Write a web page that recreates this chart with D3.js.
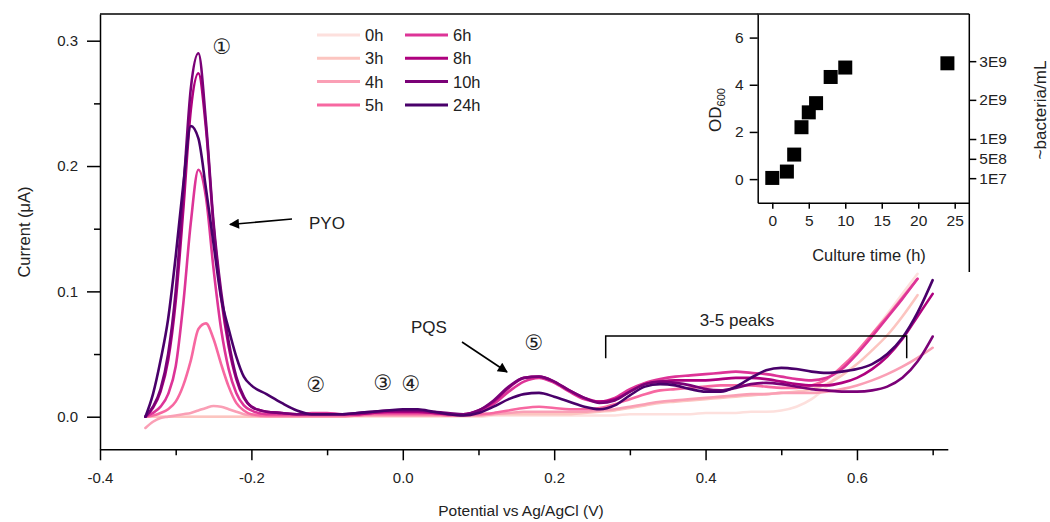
<!DOCTYPE html>
<html><head><meta charset="utf-8">
<script src="https://cdn.jsdelivr.net/npm/d3@7"></script>
<style>
html,body{margin:0;padding:0;background:#fff;}
svg{display:block;font-family:"Liberation Sans",Arial,sans-serif;}
</style></head>
<body>
<svg id="chart" width="1050" height="522"></svg>
<script>
// ---------- DATA ----------
const potentials = [-0.34,-0.33,-0.32,-0.31,-0.30,-0.29,-0.28,-0.27,-0.26,-0.25,-0.24,-0.23,-0.22,-0.21,-0.20,
  -0.18,-0.16,-0.14,-0.12,-0.10,-0.08,-0.06,-0.04,-0.02,0.00,0.02,0.04,0.06,0.08,0.10,0.12,0.14,0.16,0.18,
  0.20,0.22,0.24,0.26,0.28,0.30,0.32,0.34,0.36,0.38,0.40,0.42,0.44,0.46,0.48,0.50,0.52,0.54,0.56,0.58,0.60,0.62,0.64,0.66,0.68,0.70];

const current0h = [0,0,0,0,0,0,0,0,0,0,0,0,0,0,0,
  0,0,0,0,0,0,0,0,0,0,0,0,0,0,0,0.001,0.001,0.001,0.001,
  0.001,0.001,0.001,0.001,0.001,0.002,0.002,0.002,0.002,0.002,0.003,0.003,0.003,0.004,0.004,0.005,0.008,0.014,0.024,0.037,0.051,0.066,0.082,0.098,0.114,null];
const current3h = [0,0,0,0,0,0,0,0,0,0,0,0,0,0,0,
  0.001,0.001,0.001,0.001,0.001,0.001,0.001,0.001,0.001,0.001,0.001,0.001,0.001,0.001,0.001,0.002,0.002,0.002,0.002,
  0.002,0.002,0.003,0.004,0.005,0.007,0.009,0.011,0.012,0.013,0.014,0.015,0.016,0.017,0.018,0.019,0.020,0.022,0.026,0.033,0.042,0.053,0.065,0.080,0.097,null];
const current4h = [-0.009,-0.004,-0.001,0.000,0.001,0.002,0.003,0.005,0.007,0.0085,0.008,0.006,0.004,0.002,0.001,
  0,0,0,0,0,0,0.001,0.001,0.001,0.001,0.001,0.001,0.001,0.001,0.001,0.002,0.003,0.004,0.004,
  0.004,0.004,0.004,0.005,0.006,0.008,0.010,0.012,0.013,0.014,0.015,0.016,0.017,0.018,0.018,0.019,0.019,0.019,0.020,0.022,0.025,0.029,0.034,0.040,0.047,0.055];
const current5h = [0.000,0.001,0.003,0.006,0.012,0.025,0.045,0.070,0.0745,0.062,0.042,0.024,0.011,0.005,0.002,
  0.001,0.001,0.001,0.001,0.001,0.001,0.001,0.002,0.002,0.002,0.002,0.002,0.001,0.001,0.002,0.003,0.005,0.007,0.008,
  0.007,0.006,0.006,0.007,0.010,0.014,0.018,0.021,0.022,0.023,0.024,0.025,0.025,0.025,0.024,0.023,0.023,0.025,0.030,0.040,0.052,0.066,0.080,0.095,0.110,null];
const current6h = [0.000,0.003,0.008,0.018,0.040,0.090,0.155,0.197,0.175,0.118,0.070,0.038,0.019,0.009,0.005,
  0.002,0.002,0.002,0.003,0.003,0.002,0.002,0.003,0.003,0.003,0.003,0.003,0.002,0.002,0.004,0.010,0.020,0.028,0.031,
  0.027,0.020,0.014,0.012,0.015,0.022,0.027,0.030,0.032,0.033,0.034,0.035,0.036,0.035,0.034,0.032,0.030,0.029,0.031,0.038,0.050,0.064,0.079,0.094,0.110,null];
const current8h = [0.000,0.007,0.020,0.045,0.092,0.165,0.245,0.274,0.230,0.152,0.095,0.056,0.030,0.015,0.008,
  0.004,0.003,0.002,0.002,0.002,0.002,0.002,0.003,0.004,0.004,0.004,0.003,0.002,0.002,0.005,0.012,0.023,0.031,0.032,
  0.028,0.021,0.015,0.012,0.014,0.020,0.026,0.028,0.029,0.029,0.029,0.030,0.031,0.031,0.030,0.028,0.026,0.025,0.025,0.027,0.031,0.038,0.048,0.062,0.080,0.098];
const current10h = [0.000,0.008,0.022,0.050,0.100,0.180,0.262,0.290,0.235,0.155,0.100,0.060,0.032,0.016,0.008,
  0.004,0.003,0.002,0.002,0.002,0.002,0.003,0.004,0.005,0.005,0.005,0.004,0.003,0.002,0.005,0.013,0.024,0.031,0.032,
  0.028,0.021,0.015,0.011,0.013,0.020,0.026,0.028,0.027,0.025,0.022,0.021,0.023,0.026,0.027,0.026,0.024,0.022,0.021,0.020,0.020,0.021,0.024,0.031,0.044,0.064];
const current24h = [0.000,0.018,0.045,0.078,0.128,0.185,0.232,0.222,0.182,0.138,0.095,0.070,0.048,0.032,0.025,
  0.018,0.011,0.005,0.002,0.002,0.002,0.003,0.004,0.005,0.006,0.006,0.004,0.002,0.001,0.003,0.008,0.014,0.018,0.019,
  0.016,0.012,0.008,0.006,0.009,0.017,0.024,0.026,0.025,0.022,0.020,0.020,0.024,0.031,0.037,0.039,0.038,0.036,0.035,0.036,0.038,0.042,0.050,0.063,0.083,0.109];

const seriesNames = ["0h","3h","4h","5h","6h","8h","10h","24h"];
const seriesColors = ["#fde0dd","#fcc5c0","#fa9fb5","#f768a1","#dd3497","#ae017e","#7a0177","#49006a"];
const seriesValues = [current0h,current3h,current4h,current5h,current6h,current8h,current10h,current24h];

const xTicksMajor = [-0.4,-0.2,0.0,0.2,0.4,0.6];
const xTicksMinor = [-0.3,-0.1,0.1,0.3,0.5,0.7];
const yTicksMajor = [0.0,0.1,0.2,0.3];
const yTicksMinor = [0.05,0.15,0.25];

// inset
const cultureTime = [0,2,3,4,5,6,8,10,24];
const od600 = [0.05,0.32,1.04,2.2,2.83,3.22,4.33,4.73,4.91];
const insetXTicks = [0,5,10,15,20,25];
const insetYTicks = [0,2,4,6];
const bacteriaLabels = ["1E7","5E8","1E9","2E9","3E9"];
const bacteriaAtOD = [0.04,0.86,1.7,3.36,5.0];

// ---------- MAIN CHART ----------
const svg = d3.select("#chart");
const x = d3.scaleLinear().domain([-0.4,0.72]).range([100,947.8]);
const y = d3.scaleLinear().domain([-0.026,0.3213]).range([449.3,14]);

svg.append("line").attr("x1",100).attr("x2",758).attr("y1",14).attr("y2",14)
  .attr("stroke","#000").attr("stroke-width",1.5);

const fmt1 = d => d.toFixed(1);
svg.append("g").attr("transform","translate(100,0)")
  .call(d3.axisLeft(y).tickValues(yTicksMajor).tickSize(13).tickSizeOuter(0).tickPadding(9).tickFormat(fmt1));
svg.append("g").attr("transform","translate(100,0)")
  .call(d3.axisLeft(y).tickValues(yTicksMinor).tickSize(6).tickFormat(""))
  .call(g=>g.select(".domain").remove());
svg.append("g").attr("transform","translate(0,449.3)")
  .call(d3.axisBottom(x).tickValues(xTicksMajor).tickSize(11).tickSizeOuter(0).tickPadding(12).tickFormat(fmt1));
svg.append("g").attr("transform","translate(0,449.3)")
  .call(d3.axisBottom(x).tickValues(xTicksMinor).tickSize(6).tickFormat(""))
  .call(g=>g.select(".domain").remove());
svg.selectAll(".tick line, .domain").attr("stroke","#000").attr("stroke-width",1.5);
svg.selectAll(".tick text").attr("font-size",15).attr("fill","#222").attr("font-family","'Liberation Sans',Arial,sans-serif");

svg.append("text").attr("transform","translate(24,232) rotate(-90)")
  .attr("text-anchor","middle").attr("dominant-baseline","central")
  .attr("font-size",16.5).attr("fill","#222").text("Current (μA)");
svg.append("text").attr("x",521).attr("y",516).attr("text-anchor","middle")
  .attr("font-size",15.5).attr("fill","#222").text("Potential vs Ag/AgCl (V)");

const line = d3.line()
  .defined(d => d[1] !== null)
  .x(d => x(d[0])).y(d => y(d[1]))
  .curve(d3.curveMonotoneX);

seriesValues.forEach((vals,i) => {
  const pts = potentials.map((p,j) => [p, vals[j]]);
  svg.append("path").datum(pts).attr("d",line)
    .attr("fill","none").attr("stroke",seriesColors[i])
    .attr("stroke-width",2.6).attr("stroke-linejoin","round").attr("stroke-linecap","round");
});

// legend
const legend = svg.append("g");
seriesNames.forEach((n,i) => {
  const col = Math.floor(i/4), row = i%4;
  const lx = 317 + col*88, ly = 35 + row*23.3;
  legend.append("line").attr("x1",lx).attr("x2",lx+43).attr("y1",ly).attr("y2",ly)
    .attr("stroke",seriesColors[i]).attr("stroke-width",3);
  legend.append("text").attr("x",lx+48).attr("y",ly).attr("dominant-baseline","central")
    .attr("font-size",16.5).attr("fill","#222").text(n);
});

// annotations
const circ = [["①",222,47],["②",316,385],["③",383,383],["④",411,384],["⑤",534,343]];
circ.forEach(c => svg.append("text").attr("x",c[1]).attr("y",c[2])
  .attr("text-anchor","middle").attr("dominant-baseline","central")
  .attr("font-size",21).attr("font-family","'DejaVu Sans','Noto Sans CJK SC',sans-serif")
  .attr("fill","#222").text(c[0]));

const defs = svg.append("defs");
defs.append("marker").attr("id","arrow").attr("viewBox","0 0 10 10")
  .attr("refX",9).attr("refY",5).attr("markerWidth",12).attr("markerHeight",10)
  .attr("orient","auto").attr("markerUnits","userSpaceOnUse")
  .append("path").attr("d","M0,0 L10,5 L0,10 z").attr("fill","#000");

svg.append("line").attr("x1",292).attr("y1",219).attr("x2",230).attr("y2",224.5)
  .attr("stroke","#000").attr("stroke-width",1.6).attr("marker-end","url(#arrow)");
svg.append("text").attr("x",309).attr("y",223).attr("dominant-baseline","central")
  .attr("font-size",17).attr("fill","#222").text("PYO");
svg.append("line").attr("x1",462).attr("y1",342).attr("x2",507).attr("y2",372)
  .attr("stroke","#000").attr("stroke-width",1.6).attr("marker-end","url(#arrow)");
svg.append("text").attr("x",411).attr("y",327).attr("dominant-baseline","central")
  .attr("font-size",17).attr("fill","#222").text("PQS");

svg.append("path").attr("d","M605.7,358.3 V336 H906.7 V358.3")
  .attr("fill","none").attr("stroke","#000").attr("stroke-width",1.5);
svg.append("text").attr("x",737).attr("y",320).attr("text-anchor","middle").attr("dominant-baseline","central")
  .attr("font-size",17).attr("fill","#222").text("3-5 peaks");

// ---------- INSET ----------
const ix = d3.scaleLinear().domain([-2,27]).range([757.7,969.3]);
const iy = d3.scaleLinear().domain([-1,7]).range([202.7,14]);

svg.append("line").attr("x1",757.7).attr("x2",969.3).attr("y1",14).attr("y2",14)
  .attr("stroke","#000").attr("stroke-width",1.5);
const giL = svg.append("g").attr("transform","translate(757.7,0)")
  .call(d3.axisLeft(iy).tickValues(insetYTicks).tickSize(8).tickSizeOuter(0).tickPadding(6).tickFormat(d3.format("d")));
const giB = svg.append("g").attr("transform","translate(0,202.7)")
  .call(d3.axisBottom(ix).tickValues(insetXTicks).tickSize(6).tickSizeOuter(0).tickPadding(6).tickFormat(d3.format("d")));
const giR = svg.append("g").attr("transform","translate(969.3,0)")
  .call(d3.axisRight(iy).tickValues(bacteriaAtOD).tickSize(7).tickSizeOuter(0).tickPadding(3)
    .tickFormat((d,i) => bacteriaLabels[i]));
giR.select(".domain").remove();
svg.append("line").attr("x1",969.3).attr("x2",969.3).attr("y1",14).attr("y2",272)
  .attr("stroke","#000").attr("stroke-width",1.5);
[giL,giB,giR].forEach(g => {
  g.selectAll(".tick line, .domain").attr("stroke","#000").attr("stroke-width",1.5);
  g.selectAll(".tick text").attr("font-size",15.5).attr("fill","#222").attr("font-family","'Liberation Sans',Arial,sans-serif");
});

svg.append("g").selectAll("rect").data(cultureTime.map((t,i)=>[t,od600[i]])).join("rect")
  .attr("x",d=>ix(d[0])-7).attr("y",d=>iy(d[1])-7).attr("width",14).attr("height",14).attr("fill","#000");

svg.append("text").attr("x",869).attr("y",255).attr("text-anchor","middle").attr("dominant-baseline","central")
  .attr("font-size",16.5).attr("fill","#222").text("Culture time (h)");
const odT = svg.append("text").attr("transform","translate(721,110) rotate(-90)")
  .attr("text-anchor","middle").attr("font-size",17).attr("fill","#222");
odT.append("tspan").text("OD");
odT.append("tspan").attr("font-size",11).attr("dy",4).text("600");
svg.append("text").attr("transform","translate(1040,110) rotate(-90)")
  .attr("text-anchor","middle").attr("dominant-baseline","central")
  .attr("font-size",17).attr("fill","#222").text("~bacteria/mL");
</script>
</body></html>
